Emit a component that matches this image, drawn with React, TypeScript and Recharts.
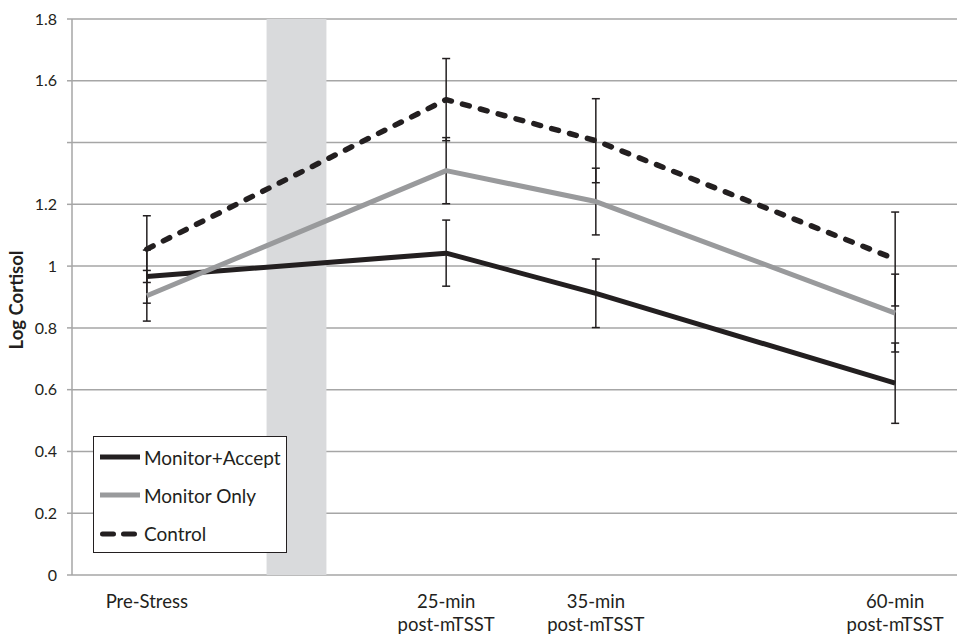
import { LineChart, Line, XAxis, YAxis, CartesianGrid, ErrorBar, ReferenceArea, Legend } from "recharts";

const categories = ["Pre-Stress", "", "25-min\npost-mTSST", "35-min\npost-mTSST", "", "60-min\npost-mTSST"];
// slots (category index) where cortisol was sampled
const sampleSlots = [0, 2, 3, 5];

const monitorAccept = [0.966, 1.042, 0.912, 0.621];
const monitorAcceptErr = [0.086, 0.107, 0.111, 0.13];
const monitorOnly = [0.904, 1.309, 1.209, 0.848];
const monitorOnlyErr = [0.082, 0.107, 0.108, 0.126];
const control = [1.055, 1.539, 1.406, 1.023];
const controlErr = [0.108, 0.133, 0.136, 0.152];

const yTicks = [0, 0.2, 0.4, 0.6, 0.8, 1, 1.2, 1.4, 1.6, 1.8];
const yTickLabels = ["0", "0.2", "0.4", "0.6", "0.8", "1", "1.2", "", "1.6", "1.8"];

// mTSST stress window, inside the empty slot after Pre-Stress
const stressWindow = [1.3, 1.7];

const FONT = "Lato, 'Open Sans', sans-serif";
const INK = "#231f20";
const GRID = "#a6a6a6";

const SERIES = [
  { key: "ma", errKey: "maErr", name: "Monitor+Accept", color: INK, dash: undefined as string | undefined },
  { key: "mo", errKey: "moErr", name: "Monitor Only", color: "#999a9c", dash: undefined as string | undefined },
  { key: "ctl", errKey: "ctlErr", name: "Control", color: INK, dash: "7 11.5" },
];

const data = sampleSlots.map((slot, i) => ({
  x: slot + 0.5,
  ma: monitorAccept[i],
  maErr: monitorAcceptErr[i],
  mo: monitorOnly[i],
  moErr: monitorOnlyErr[i],
  ctl: control[i],
  ctlErr: controlErr[i],
}));

const slotTicks = categories.map((_, i) => i).concat(categories.length);
const labelTicks = categories.map((c, i) => (c ? i + 0.5 : null)).filter((v): v is number => v !== null);

function CategoryTick({ x, y, payload }: any) {
  const lines = (categories[Math.floor(payload.value)] || "").split("\n");
  return (
    <text x={x} y={y} textAnchor="middle" fill={INK} fontSize={18.5} fontFamily={FONT}>
      {lines.map((l, i) => (
        <tspan key={i} x={x} y={y + 32.5 + i * 23}>
          {l}
        </tspan>
      ))}
    </text>
  );
}

function YLabel({ viewBox }: any) {
  const cx = 16;
  const cy = viewBox ? viewBox.y + viewBox.height / 2 + 3 : 300;
  return (
    <text
      x={cx}
      y={cy}
      transform={`rotate(-90 ${cx} ${cy})`}
      textAnchor="middle"
      dominantBaseline="central"
      fontWeight={700}
      fontSize={18.5}
      fill={INK}
      fontFamily={FONT}
    >
      Log Cortisol
    </text>
  );
}

function LegendBox() {
  return (
    <div
      style={{
        width: 192,
        height: 114,
        border: `1.3px solid ${INK}`,
        background: "#fff",
        paddingTop: 1,
        fontFamily: FONT,
        fontSize: 19,
        color: INK,
      }}
    >
      {SERIES.map((s) => (
        <div key={s.key} style={{ height: 38.3, display: "flex", alignItems: "center", paddingLeft: 6 }}>
          <svg width={40} height={8} style={{ marginRight: 4 }}>
            <line
              x1={s.dash ? 2.5 : 0}
              x2={s.dash ? 38 : 40}
              y1={4}
              y2={4}
              stroke={s.color}
              strokeWidth={5}
              strokeLinecap={s.dash ? "round" : "butt"}
              strokeDasharray={s.dash ? "11 10" : undefined}
            />
          </svg>
          <span>{s.name}</span>
        </div>
      ))}
    </div>
  );
}

export default function App() {
  return (
    <div style={{ position: "absolute", left: 0, top: 0, width: 957, height: 636, overflow: "hidden", background: "#fff" }}>
      <LineChart width={980} height={636} data={data} margin={{ top: 19, right: 10, bottom: 0, left: 0 }}>
        <ReferenceArea x1={stressWindow[0]} x2={stressWindow[1]} y1={0} y2={1.8} fill="#d9dadc" fillOpacity={1} stroke="none" />
        <CartesianGrid vertical={false} stroke={GRID} strokeWidth={1.5} />
        <XAxis
          dataKey="x"
          type="number"
          domain={[0, categories.length]}
          ticks={slotTicks}
          interval={0}
          height={0}
          tick={false}
          tickSize={6}
          axisLine={{ stroke: GRID, strokeWidth: 1.5 }}
          tickLine={{ stroke: GRID, strokeWidth: 1.5 }}
        />
        <XAxis
          xAxisId="labels"
          dataKey="x"
          type="number"
          domain={[0, categories.length]}
          ticks={labelTicks}
          interval={0}
          height={61}
          tickSize={0}
          tickMargin={0}
          axisLine={false}
          tickLine={false}
          tick={<CategoryTick />}
        />
        <YAxis
          type="number"
          domain={[0, 1.8]}
          ticks={yTicks}
          interval={0}
          width={72}
          tickSize={5}
          tickMargin={10}
          tickFormatter={(_v: number, i: number) => yTickLabels[i]}
          tick={{ fill: INK, fontSize: 16, fontFamily: FONT }}
          axisLine={{ stroke: GRID, strokeWidth: 1.5 }}
          tickLine={{ stroke: GRID, strokeWidth: 1.5 }}
          label={<YLabel />}
        />
        <Legend
          layout="vertical"
          align="center"
          verticalAlign="middle"
          wrapperStyle={{ left: 93, top: 436, width: 195, height: 117 }}
          content={<LegendBox />}
        />
        {SERIES.map((s) => (
          <Line
            key={s.key}
            dataKey={s.key}
            name={s.name}
            stroke={s.color}
            strokeWidth={s.dash ? 5.5 : 5}
            strokeDasharray={s.dash}
            strokeLinecap={s.dash ? "round" : "butt"}
            strokeLinejoin="round"
            dot={false}
            activeDot={false}
            isAnimationActive={false}
          >
            <ErrorBar dataKey={s.errKey} width={4} strokeWidth={1.5} stroke={INK} direction="y" />
          </Line>
        ))}
      </LineChart>
    </div>
  );
}
